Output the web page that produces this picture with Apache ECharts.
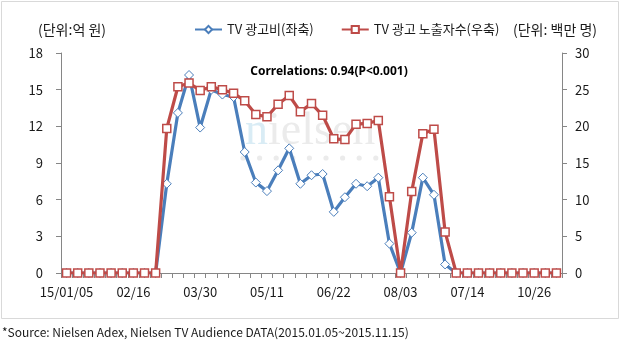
<!DOCTYPE html>
<html>
<head>
<meta charset="utf-8">
<script src="https://cdn.jsdelivr.net/npm/echarts@6/dist/echarts.min.js"></script>
<style>
  html, body { margin: 0; padding: 0; background: #fff; }
  #chart { width: 620px; height: 349px; }
</style>
</head>
<body>
<div id="chart"></div>
<script>
// Weekly periods, 2015-01-05 .. 2015-11-09
const weeks = [
  '01/05','01/12','01/19','01/26','02/02','02/09','02/16','02/23','03/02','03/09',
  '03/16','03/23','03/30','04/06','04/13','04/20','04/27','05/04','05/11','05/18',
  '05/25','06/01','06/08','06/15','06/22','06/29','07/06','07/13','07/20','07/27',
  '08/03','08/10','08/17','08/24','08/31','09/07','09/14','09/21','09/28','10/05',
  '10/12','10/19','10/26','11/02','11/09'
];
// Labels printed under every sixth week
const tickLabels = ['15/01/05','02/16','03/30','05/11','06/22','08/03','07/14','10/26'];
const tickStep = 6;

// TV ad spend (100M KRW, left axis)
const adSpend = [
  0, 0, 0, 0, 0, 0, 0, 0, 0,
  7.3, 13.1, 16.2, 11.9, 15.0, 14.6, 14.4, 9.9, 7.4, 6.7,
  8.4, 10.2, 7.3, 8.0, 8.1, 5.0, 6.2, 7.3, 7.1, 7.8,
  2.4, 0, 3.3, 7.8, 6.4, 0.7, 0,
  0, 0, 0, 0, 0, 0, 0, 0, 0
];
// TV ad audience reach (millions, right axis)
const audience = [
  0, 0, 0, 0, 0, 0, 0, 0, 0,
  19.7, 25.4, 25.9, 24.9, 25.4, 25.0, 24.5, 23.5, 21.6, 21.3,
  23.0, 24.2, 22.0, 23.1, 21.5, 18.3, 18.2, 20.3, 20.4, 20.8,
  10.4, 0, 11.1, 19.0, 19.6, 5.6, 0,
  0, 0, 0, 0, 0, 0, 0, 0, 0
];

const seriesNames = ['TV 광고비(좌축)', 'TV 광고 노출자수(우축)'];
const leftUnit = '(단위:억 원)';
const rightUnit = '(단위: 백만 명)';
const corrText = 'Correlations: 0.94(P<0.001)';
const sourceText = '*Source: Nielsen Adex, Nielsen TV Audience DATA(2015.01.05~2015.11.15)';

const FONT = '"Noto Sans CJK KR", "Noto Sans", sans-serif';
const BLUE = '#4a7ebb';
const RED = '#be4b48';
const AXIS = '#868686';
const TEXT = '#1a1a1a';

const chart = echarts.init(document.getElementById('chart'), null, { renderer: 'canvas' });

const watermarkDots = [];
for (let i = 0; i < 9; i++) {
  watermarkDots.push({
    type: 'circle',
    shape: { cx: 243 + i * 16.6, cy: 158, r: 2.6 },
    style: { fill: '#ebebeb' },
    z: -1
  });
}

chart.setOption({
  animation: false,
  backgroundColor: '#fff',
  textStyle: { fontFamily: FONT },
  grid: { left: 61, right: 58, top: 53, bottom: 76 },
  legend: {
    left: 194,
    top: 23,
    padding: 0,
    itemWidth: 27,
    itemHeight: 9,
    itemGap: 27,
    textStyle: { fontSize: 13, color: TEXT, fontFamily: FONT },
    data: seriesNames
  },
  xAxis: {
    type: 'category',
    data: weeks,
    boundaryGap: true,
    axisLine: { lineStyle: { color: AXIS, width: 1 } },
    axisTick: { show: true, interval: 0, length: 5, lineStyle: { color: AXIS } },
    axisLabel: {
      interval: tickStep - 1,
      margin: 13,
      fontSize: 13,
      color: TEXT,
      fontFamily: FONT,
      formatter: (val, idx) => tickLabels[Math.floor(idx / tickStep)] || ''
    },
    splitLine: { show: false }
  },
  yAxis: [
    {
      type: 'value', min: 0, max: 18, interval: 3, position: 'left',
      axisLine: { show: true, lineStyle: { color: AXIS } },
      axisTick: { show: true, length: 5, lineStyle: { color: AXIS } },
      axisLabel: { fontSize: 13, color: TEXT, margin: 18, fontFamily: FONT },
      splitLine: { show: false }
    },
    {
      type: 'value', min: 0, max: 30, interval: 5, position: 'right',
      axisLine: { show: true, lineStyle: { color: AXIS } },
      axisTick: { show: true, length: 5, lineStyle: { color: AXIS } },
      axisLabel: { fontSize: 13, color: TEXT, margin: 13, fontFamily: FONT },
      splitLine: { show: false }
    }
  ],
  series: [
    {
      name: seriesNames[0],
      type: 'line',
      yAxisIndex: 0,
      data: adSpend,
      symbol: 'diamond',
      symbolSize: 9,
      showAllSymbol: true,
      lineStyle: { color: BLUE, width: 3.2 },
      itemStyle: { color: '#fff', borderColor: BLUE, borderWidth: 1 },
      z: 3
    },
    {
      name: seriesNames[1],
      type: 'line',
      yAxisIndex: 1,
      data: audience,
      symbol: 'rect',
      symbolSize: 8,
      showAllSymbol: true,
      lineStyle: { color: RED, width: 3.2 },
      itemStyle: { color: '#fff', borderColor: RED, borderWidth: 1.5 },
      z: 4
    }
  ],
  graphic: [
    {
      type: 'rect',
      shape: { x: 1.5, y: 1.5, width: 617, height: 317 },
      style: { fill: 'none', stroke: '#d9d9d9', lineWidth: 1 },
      silent: true,
      z: -2
    },
    {
      type: 'text',
      x: 245, y: 155,
      style: {
        text: '{a|n}{b|ielsen}',
        verticalAlign: 'bottom',
        rich: {
          a: { fontFamily: '"Liberation Serif", serif', fontSize: 46, fill: '#d9ecf5' },
          b: { fontFamily: '"Liberation Serif", serif', fontSize: 46, fill: '#ebebeb' }
        }
      },
      z: -1
    },
    ...watermarkDots,
    {
      type: 'text',
      x: 329, y: 72,
      style: {
        text: corrText,
        align: 'center', verticalAlign: 'middle',
        fontFamily: '"Noto Sans", sans-serif', fontWeight: 'bold', fontSize: 12, fill: '#000'
      }
    },
    {
      type: 'text',
      x: 38, y: 30,
      style: { text: leftUnit, verticalAlign: 'middle', fontFamily: FONT, fontSize: 14, fill: TEXT }
    },
    {
      type: 'text',
      x: 513, y: 30,
      style: { text: rightUnit, verticalAlign: 'middle', fontFamily: FONT, fontSize: 14, fill: TEXT }
    },
    {
      type: 'text',
      x: 2, y: 332,
      style: { text: sourceText, verticalAlign: 'middle', fontFamily: FONT, fontSize: 12, fill: TEXT }
    }
  ]
});
</script>
</body>
</html>
